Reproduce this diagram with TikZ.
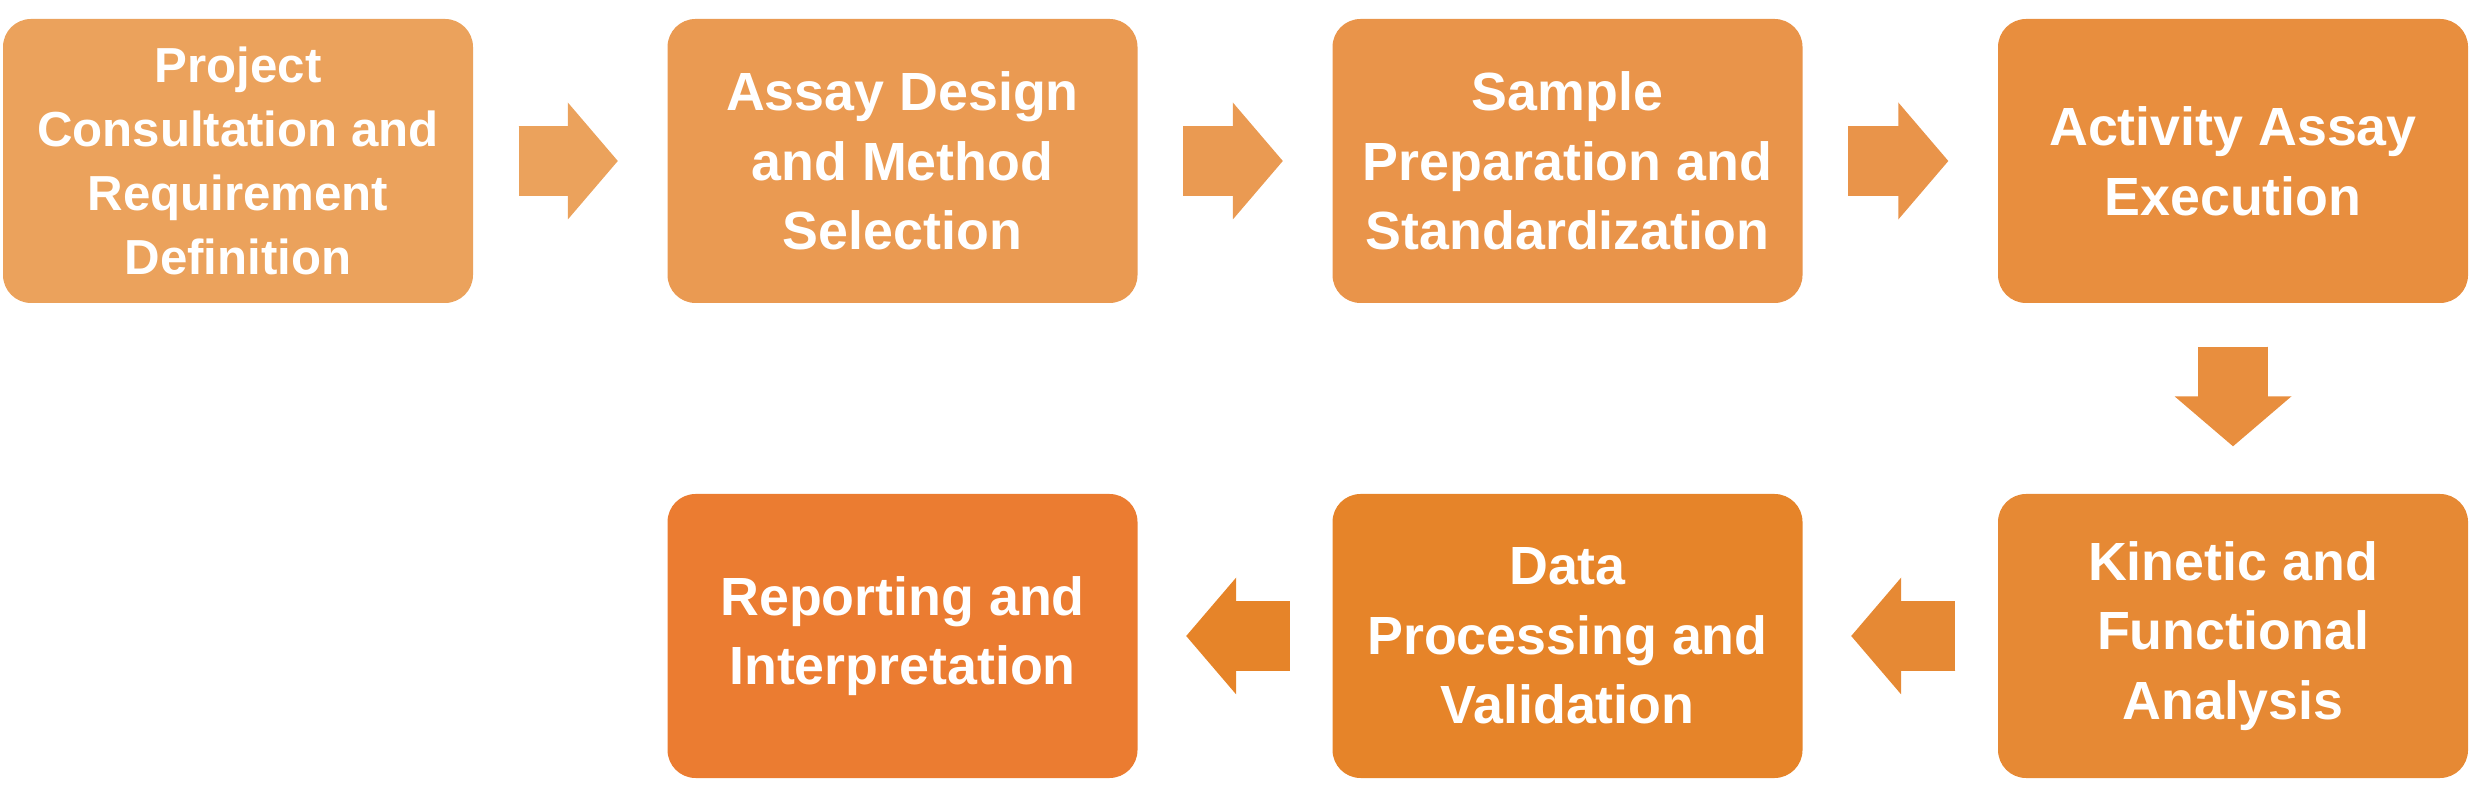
\documentclass[tikz,border=0pt]{standalone}
\usepackage{fontspec}
\setsansfont{Liberation Sans}
\usepackage{tikz}
\usetikzlibrary{arrows.meta, positioning}

\definecolor{stepA}{HTML}{EBA25C}
\definecolor{stepB}{HTML}{EA9A52}
\definecolor{stepC}{HTML}{E9944A}
\definecolor{stepD}{HTML}{E88E3E}
\definecolor{stepE}{HTML}{E68934}
\definecolor{stepF}{HTML}{E68429}
\definecolor{stepG}{HTML}{EB7C31}

\begin{document}
\begin{tikzpicture}[
        stepbox/.style={rectangle, rounded corners=0.28cm, minimum width=4.70cm, minimum height=2.84cm, inner sep=2pt, align=center, text=white, font=\sffamily\bfseries\fontsize{15.3}{19.8}\selectfont},
        smallbox/.style={stepbox, font=\sffamily\bfseries\fontsize{14}{18.2}\selectfont},
        flow/.style={line width=0.70cm, -{Triangle[length=0.50cm, width=1.17cm, line width=0pt]},
            postaction={draw, -, shorten >=0.40cm}}
    ]
    \useasboundingbox (0, 0) rectangle (24.72, -7.98);

    % Top row: left to right
    \node[smallbox, fill=stepA] (consult) at (2.38, -1.61) {Project\\Consultation and\\Requirement\\Definition};
    \node[stepbox, fill=stepB] (design) at (9.025, -1.61) {Assay Design\\and Method\\Selection};
    \node[stepbox, fill=stepC] (sample) at (15.675, -1.61) {Sample\\Preparation and\\Standardization};
    \node[stepbox, fill=stepD] (execute) at (22.33, -1.61) {Activity Assay\\Execution};

    % Bottom row: right to left
    \node[stepbox, fill=stepE] (kinetic) at (22.33, -6.36) {Kinetic and\\Functional\\Analysis};
    \node[stepbox, fill=stepF] (dataproc) at (15.675, -6.36) {Data\\Processing and\\Validation};
    \node[stepbox, fill=stepG] (report) at (9.025, -6.36) {Reporting and\\Interpretation};

    % --- Edges ---
    \draw[flow, stepA] ([xshift=0.45cm]consult.east) -- ([xshift=-0.49cm]design.west);
    \draw[flow, stepB] ([xshift=0.45cm]design.east) -- ([xshift=-0.49cm]sample.west);
    \draw[flow, stepC] ([xshift=0.45cm]sample.east) -- ([xshift=-0.49cm]execute.west);
    \draw[flow, stepD] ([yshift=-0.43cm]execute.south) -- ([yshift=0.47cm]kinetic.north);
    \draw[flow, stepE] ([xshift=-0.42cm]kinetic.west) -- ([xshift=0.48cm]dataproc.east);
    \draw[flow, stepF] ([xshift=-0.42cm]dataproc.west) -- ([xshift=0.48cm]report.east);

\end{tikzpicture}
\end{document}
